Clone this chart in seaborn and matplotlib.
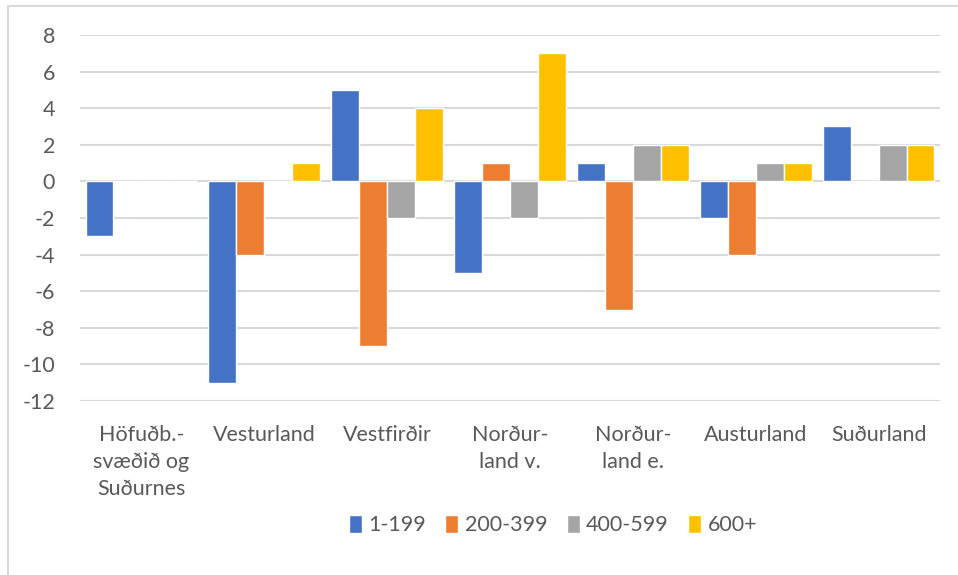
import pandas as pd
import matplotlib.pyplot as plt
import seaborn as sns
from matplotlib.patches import Rectangle

# data
regions = ['Höfuðb.-\nsvæðið og\nSuðurnes', 'Vesturland', 'Vestfirðir',
           'Norður-\nland v.', 'Norður-\nland e.', 'Austurland', 'Suðurland']
groups = ['1-199', '200-399', '400-599', '600+']
v_1_199 = [-3, -11, 5, -5, 1, -2, 3]
v_200_399 = [0, -4, -9, 1, -7, -4, 0]
v_400_599 = [0, 0, -2, -2, 2, 1, 2]
v_600 = [0, 1, 4, 7, 2, 1, 2]
colors = ['#4472C4', '#ED7D31', '#A5A5A5', '#FFC000']

rows = []
for g, vals in zip(groups, [v_1_199, v_200_399, v_400_599, v_600]):
    for r, v in zip(regions, vals):
        rows.append({'region': r, 'group': g, 'value': v})
df = pd.DataFrame(rows)

sns.set_style('white')
plt.rcParams['font.family'] = ['Lato', 'DejaVu Sans']
plt.rcParams['axes.unicode_minus'] = False
text_col = '#595959'

fig = plt.figure(figsize=(9.58, 5.75), dpi=100)
ax = fig.add_axes([80 / 958, 1 - 401 / 575, 860 / 958, 366 / 575])

sns.barplot(data=df, x='region', y='value', hue='group', order=regions,
            hue_order=groups, palette=colors, width=0.91, gap=0,
            saturation=1, ax=ax, legend=True, zorder=3)

ax.set_ylim(-12, 8)
ax.set_yticks(range(-12, 9, 2))
ax.set_xlim(-0.5, len(regions) - 0.5)
ax.grid(axis='y', color='#D9D9D9', linewidth=1.5, zorder=0)
ax.set_axisbelow(True)
for s in ax.spines.values():
    s.set_visible(False)
ax.set_xlabel('')
ax.set_ylabel('')
ax.tick_params(axis='both', length=0, labelsize=15.5, colors=text_col)
ax.tick_params(axis='x', pad=17)
ax.tick_params(axis='y', pad=18)
for lab in ax.get_xticklabels():
    lab.set_linespacing(1.45)
    lab.set_verticalalignment('top')

handles, labels = ax.get_legend_handles_labels()
ax.legend_.remove()
fig.legend(handles, labels, ncol=4, frameon=False, loc='center',
           bbox_to_anchor=(553 / 958, 1 - 525 / 575), fontsize=15.5,
           labelcolor=text_col, handlelength=0.6, handleheight=0.9,
           handletextpad=0.3, columnspacing=0.9)

# chart border (only top and left visible)
fig.add_artist(Rectangle((8 / 958, -0.05), 1.2, 1 - 6 / 575 + 0.05,
                         transform=fig.transFigure, fill=False,
                         edgecolor='#D9D9D9', linewidth=1.5))

fig.savefig('out.png', dpi=100)
